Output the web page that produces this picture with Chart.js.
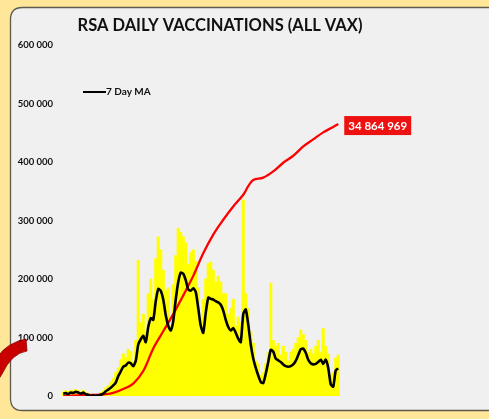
<!DOCTYPE html>
<html>
<head>
<meta charset="utf-8">
<script src="https://cdn.jsdelivr.net/npm/chart.js@4.4.1/dist/chart.umd.min.js"></script>
<style>
  html, body { margin: 0; padding: 0; background: #FFE699; }
  #wrap { width: 489px; height: 419px; }
</style>
</head>
<body>
<div id="wrap"><canvas id="vaxChart" width="489" height="419"></canvas></div>
<script>
// ---- data ----
const chartTitle = 'RSA DAILY VACCINATIONS (ALL VAX)';
const maLabel    = '7 Day MA';
const finalTotal = 34864969;

// daily doses (thousands), one bar per ~3 days
const dailyK = [
  7, 9, 8, 10, 9, 11, 9, 7, 10, 6,
  4, 2, 3, 2, 3, 6, 9, 14, 18, 24,
  30, 40, 48, 62, 72, 66, 80, 76, 58, 95,
  232, 125, 140, 110, 175, 200, 165, 235, 272, 250,
  215, 180, 185, 120, 190, 240, 287, 280, 272, 262,
  225, 245, 250, 230, 185, 110, 165, 200, 227, 229,
  215, 195, 205, 195, 175, 175, 140, 150, 165, 120,
  135, 125, 335, 175, 150, 110, 90, 60, 55, 35,
  40, 55, 75, 193, 95, 85, 90, 70, 85, 75,
  60, 75, 80, 90, 100, 113, 105, 95, 75, 80,
  72, 85, 95, 75, 115, 85, 72, 35, 40, 65,
  70
];

// 7 day moving average (thousands), same positions as dailyK
const ma7K = [
  4, 5, 3, 6, 5, 7, 6, 4, 6, 3,
  2, 0, 1, 0, 1, 2, 4, 8, 11, 14,
  18, 23, 34, 42, 50, 52, 57, 56, 51, 60,
  88, 97, 103, 92, 118, 133, 130, 162, 183, 180,
  165, 138, 120, 112, 128, 165, 195, 211, 209, 198,
  182, 180, 184, 178, 150, 120, 108, 142, 168, 166,
  165, 162, 160, 156, 146, 130, 118, 112, 116, 108,
  98, 92, 140, 148, 122, 88, 64, 48, 35, 24,
  22, 38, 58, 79, 76, 64, 61, 58, 54, 51,
  50, 51, 54, 60, 70, 80, 81, 74, 62, 56,
  54, 55, 58, 62, 55, 62, 48, 20, 16, 44,
  47
];

// cumulative doses (millions), sampled at these positions
const cumIdx  = [0, 8, 16, 20, 24, 28, 32, 36, 40, 44, 48, 52, 56, 60, 64, 68, 72, 74, 76, 80, 84, 88, 92, 96, 100, 104, 108, 110];
const cumVals = [0, 0.1, 0.2, 0.4, 0.9, 1.6, 3.2, 6.1, 8.3, 10.5, 12.9, 15.4, 18.3, 20.7, 22.6, 24.3, 25.8, 26.9, 27.7, 28.0, 28.8, 29.9, 30.8, 32.0, 32.9, 33.8, 34.5, 34.865];

const yTicks = [0, 100000, 200000, 300000, 400000, 500000, 600000];

// ---- helpers ----
const FONT = 'Lato, "Open Sans", sans-serif';
const spaced = (n) => String(Math.round(n)).replace(/\B(?=(\d{3})+(?!\d))/g, ' ');

function roundRect(ctx, x, y, w, h, r) {
  ctx.beginPath();
  ctx.moveTo(x + r, y);
  ctx.lineTo(x + w - r, y);
  ctx.quadraticCurveTo(x + w, y, x + w, y + r);
  ctx.lineTo(x + w, y + h - r);
  ctx.quadraticCurveTo(x + w, y + h, x + w - r, y + h);
  ctx.lineTo(x + r, y + h);
  ctx.quadraticCurveTo(x, y + h, x, y + h - r);
  ctx.lineTo(x, y + r);
  ctx.quadraticCurveTo(x, y, x + r, y);
  ctx.closePath();
}

// yellow page + grey rounded panel behind everything
const panelPlugin = {
  id: 'panel',
  beforeDraw(chart) {
    const ctx = chart.ctx;
    ctx.save();
    ctx.fillStyle = '#FFE699';
    ctx.fillRect(0, 0, chart.width, chart.height);
    roundRect(ctx, 10.5, 7.5, 500, 403, 12);
    ctx.fillStyle = '#F0F0F0';
    ctx.fill();
    ctx.lineWidth = 1.3;
    ctx.strokeStyle = '#5E5A4E';
    ctx.stroke();
    ctx.restore();
  }
};

// title, legend, end label, decorative arrow
const overlayPlugin = {
  id: 'overlay',
  afterDraw(chart) {
    const ctx = chart.ctx;
    ctx.save();

    // title
    ctx.fillStyle = '#111';
    ctx.font = 'bold 16.5px ' + FONT;
    ctx.textAlign = 'center';
    ctx.textBaseline = 'middle';
    ctx.fillText(chartTitle, 220, 26);

    // legend (only the moving average)
    ctx.strokeStyle = '#000';
    ctx.lineWidth = 2;
    ctx.beginPath();
    ctx.moveTo(83, 92);
    ctx.lineTo(106, 92);
    ctx.stroke();
    ctx.fillStyle = '#111';
    ctx.font = 'bold 10px ' + FONT;
    ctx.textAlign = 'left';
    ctx.fillText(maLabel, 106, 92);

    // end-of-line total
    const meta = chart.getDatasetMeta(1);
    const last = meta.data[meta.data.length - 1];
    if (last) {
      const txt = spaced(finalTotal);
      ctx.font = 'bold 11.5px ' + FONT;
      const w = ctx.measureText(txt).width + 8;
      const bx = last.x + 6, by = last.y + 2 - 10;
      ctx.fillStyle = '#EE1111';
      ctx.fillRect(bx, by, w, 19);
      ctx.fillStyle = '#fff';
      ctx.textAlign = 'left';
      ctx.fillText(txt, bx + 4, by + 10);
    }

    // curved red arrow tail at bottom left
    ctx.beginPath();
    ctx.moveTo(-3, 358);
    ctx.quadraticCurveTo(6, 343, 26, 339);
    ctx.lineTo(27, 351);
    ctx.quadraticCurveTo(12, 353, 2, 374);
    ctx.lineTo(-3, 382);
    ctx.closePath();
    ctx.fillStyle = '#C80000';
    ctx.fill();
    ctx.strokeStyle = '#8A0000';
    ctx.lineWidth = 0.8;
    ctx.stroke();

    ctx.restore();
  }
};

const ctx = document.getElementById('vaxChart').getContext('2d');
new Chart(ctx, {
  type: 'bar',
  data: {
    datasets: [
      {
        type: 'bar',
        label: 'Daily',
        data: dailyK.map((v, i) => ({ x: i, y: v * 1000 })),
        backgroundColor: '#FFFF00',
        borderWidth: 0,
        barPercentage: 1,
        categoryPercentage: 1,
        yAxisID: 'y',
        order: 3
      },
      {
        type: 'line',
        label: 'Cumulative',
        data: cumIdx.map((d, i) => ({ x: d, y: cumVals[i] * 1e6 })),
        borderColor: '#FF0000',
        borderWidth: 2.3,
        pointRadius: 0,
        tension: 0.35,
        yAxisID: 'y2',
        order: 2
      },
      {
        type: 'line',
        label: maLabel,
        data: ma7K.map((v, i) => ({ x: i, y: v * 1000 })),
        borderColor: '#000000',
        borderWidth: 2.6,
        pointRadius: 0,
        tension: 0.2,
        yAxisID: 'y',
        order: 1
      }
    ]
  },
  options: {
    responsive: false,
    animation: false,
    devicePixelRatio: 1,
    layout: { padding: { top: 45, right: 9, bottom: 23, left: 0 } },
    plugins: {
      legend: { display: false },
      tooltip: { enabled: false },
      title: { display: false }
    },
    scales: {
      x: {
        type: 'linear',
        min: -0.5,
        max: 166.7,
        offset: false,
        display: false
      },
      y: {
        min: 0,
        max: 600000,
        afterBuildTicks: (scale) => { scale.ticks = yTicks.map(v => ({ value: v })); },
        afterFit: (scale) => { scale.width = 62; },
        ticks: {
          color: '#111',
          padding: 9,
          font: { family: FONT, size: 9.5, weight: 'bold' },
          callback: (v) => spaced(v)
        },
        grid: { display: false, drawTicks: false },
        border: { display: false }
      },
      y2: {
        display: false,
        position: 'right',
        min: 0,
        max: 45000000
      }
    }
  },
  plugins: [panelPlugin, overlayPlugin]
});
</script>
</body>
</html>
